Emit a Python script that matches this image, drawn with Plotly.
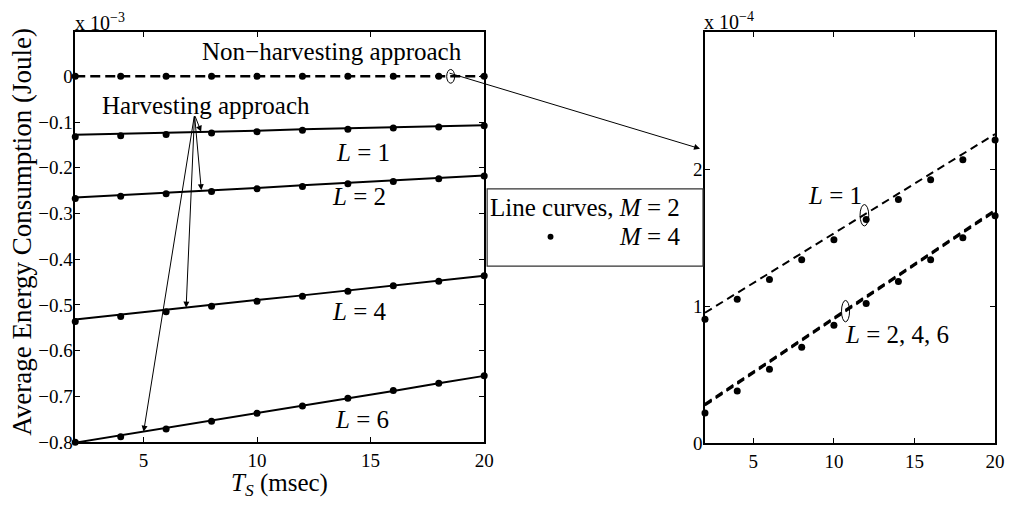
import plotly.graph_objects as go

# ---------------- data ----------------
ts = [2, 4, 6, 8, 10, 12, 14, 16, 18, 20]

# left panel (units of 1e-3 Joule)
non_harv_m2 = [0, 0, 0, 0, 0, 0, 0, 0, 0, 0]
non_harv_m4 = [0, 0, 0, 0, 0, 0, 0, 0, 0, 0]
harv_m2 = {
    "L = 1": [-0.128, -0.126, -0.123, -0.121, -0.119, -0.116, -0.114, -0.112, -0.109, -0.107],
    "L = 2": [-0.265, -0.260, -0.254, -0.249, -0.244, -0.238, -0.233, -0.228, -0.222, -0.217],
    "L = 4": [-0.532, -0.521, -0.511, -0.500, -0.489, -0.479, -0.468, -0.457, -0.447, -0.436],
    "L = 6": [-0.801, -0.785, -0.769, -0.752, -0.736, -0.720, -0.704, -0.688, -0.671, -0.655],
}
harv_m4 = {
    "L = 1": [-0.132, -0.130, -0.127, -0.124, -0.121, -0.118, -0.116, -0.113, -0.111, -0.108],
    "L = 2": [-0.267, -0.262, -0.257, -0.252, -0.246, -0.241, -0.235, -0.230, -0.224, -0.218],
    "L = 4": [-0.536, -0.525, -0.515, -0.503, -0.492, -0.481, -0.470, -0.458, -0.448, -0.436],
    "L = 6": [-0.800, -0.788, -0.771, -0.754, -0.737, -0.721, -0.704, -0.687, -0.671, -0.655],
}

# right panel: zoom of non-harvesting (units of 1e-4 Joule)
zoom_m2 = {
    "L = 1": [0.952, 1.097, 1.242, 1.387, 1.532, 1.677, 1.822, 1.967, 2.112, 2.257],
    "L = 2": [0.281, 0.438, 0.596, 0.753, 0.911, 1.068, 1.226, 1.383, 1.541, 1.698],
    "L = 4": [0.287, 0.444, 0.602, 0.759, 0.917, 1.074, 1.232, 1.389, 1.547, 1.704],
    "L = 6": [0.275, 0.432, 0.590, 0.747, 0.905, 1.062, 1.220, 1.377, 1.535, 1.692],
}
zoom_m4 = {
    "L = 1": [0.905, 1.050, 1.195, 1.340, 1.486, 1.633, 1.779, 1.924, 2.069, 2.214],
    "L = 2, 4, 6": [0.221, 0.381, 0.540, 0.700, 0.860, 1.019, 1.181, 1.340, 1.500, 1.660],
}

left_yticks = [-0.8, -0.7, -0.6, -0.5, -0.4, -0.3, -0.2, -0.1, 0]
right_yticks = [0, 1, 2]
xticks = [5, 10, 15, 20]

# ---------------- figure ----------------
W, H = 1016, 506
FONT = "Liberation Serif"


def px(x):
    return x / W


def py(y):
    return 1 - y / H


fig = go.Figure()

dot = dict(color="black", size=7)

# left panel
fig.add_trace(go.Scatter(x=ts, y=non_harv_m2, mode="lines",
                         line=dict(color="black", width=2.5, dash="10px,5px"),
                         xaxis="x", yaxis="y", showlegend=False))
fig.add_trace(go.Scatter(x=ts, y=non_harv_m4, mode="markers", marker=dot,
                         xaxis="x", yaxis="y", showlegend=False, cliponaxis=False))
for k, v in harv_m2.items():
    fig.add_trace(go.Scatter(x=ts, y=v, mode="lines",
                             line=dict(color="black", width=2),
                             xaxis="x", yaxis="y", showlegend=False))
for k, v in harv_m4.items():
    fig.add_trace(go.Scatter(x=ts, y=v, mode="markers", marker=dot,
                             xaxis="x", yaxis="y", showlegend=False, cliponaxis=False))

# right panel
for k, v in zoom_m2.items():
    fig.add_trace(go.Scatter(x=ts, y=v, mode="lines",
                             line=dict(color="black", width=2, dash="8px,5px"),
                             xaxis="x2", yaxis="y2", showlegend=False))
for k, v in zoom_m4.items():
    fig.add_trace(go.Scatter(x=ts, y=v, mode="markers", marker=dot,
                             xaxis="x2", yaxis="y2", showlegend=False, cliponaxis=False))

axis_common = dict(showline=True, linecolor="black", linewidth=1.5, mirror="ticks",
                   ticks="inside", ticklen=5, tickcolor="black", tickwidth=1,
                   showgrid=False, zeroline=False,
                   tickfont=dict(family=FONT, size=19, color="black"))

fig.update_layout(
    width=W, height=H,
    margin=dict(l=0, r=0, t=0, b=0),
    font=dict(family=FONT, size=19, color="black"),
    paper_bgcolor="white", plot_bgcolor="white",
    xaxis=dict(domain=[px(76), px(489)], range=[2, 20], tickvals=xticks,
               anchor="y", **axis_common),
    yaxis=dict(domain=[py(452), py(33)], range=[-0.8, 0.0963], tickvals=left_yticks,
               anchor="x", ticklabelstandoff=-3, **axis_common),
    xaxis2=dict(domain=[px(712), px(1005)], range=[2, 20], tickvals=xticks,
                anchor="y2", **axis_common),
    yaxis2=dict(domain=[py(453), py(33)], range=[0, 3.0], tickvals=right_yticks,
                anchor="x2", ticklabelstandoff=-3, **axis_common),
)

ann = []


def text(x, y, s, size=25, xanchor="center", yanchor="middle", textangle=0, pad=1):
    ann.append(dict(x=px(x), y=py(y), xref="paper", yref="paper", text=s,
                    showarrow=False, xanchor=xanchor, yanchor=yanchor,
                    textangle=textangle, borderpad=pad,
                    font=dict(family=FONT, size=size, color="black")))


text(335, 53, "Non\u2212harvesting approach")
text(208, 108, "Harvesting approach")
text(367, 156, "<i>L</i> = 1")
text(363, 201, "<i>L</i> = 2")
text(363, 318, "<i>L</i> = 4")
text(366, 429, "<i>L</i> = 6")
text(843, 200, "<i>L</i> = 1")
text(906, 342, "<i>L</i> = 2, 4, 6")
text(689, 212, "Line curves, <i>M</i> = 2", xanchor="right")
text(689, 242, "<i>M</i> = 4", xanchor="right")
text(22, 237, "Average Energy Consumption (Joule)", size=27, textangle=-90)
text(282, 495, "<i>T</i><sub><i>S</i></sub> (msec)", size=25, pad=0)
text(74, 37, "x 10<sup>\u22123</sup>", size=20, xanchor="left", yanchor="bottom")
text(709, 36, "x 10<sup>\u22124</sup>", size=20, xanchor="left", yanchor="bottom")

# arrows from "Harvesting approach"
for hx, hy in [(7.54, -0.121), (7.55, -0.249), (6.88, -0.506), (5.01, -0.777)]:
    ann.append(dict(x=hx, y=hy, xref="x", yref="y", ax=7.25, ay=-0.084,
                    axref="x", ayref="y", showarrow=True, arrowhead=2,
                    arrowsize=1.2, arrowwidth=1, arrowcolor="black", text=""))
# arrow from left ellipse to right panel
ann.append(dict(x=px(707), y=py(152), xref="paper", yref="paper",
                ax=-252, ay=-76, showarrow=True, arrowhead=2, arrowsize=1.2,
                arrowwidth=1, arrowcolor="black", text="", standoff=0))
fig.update_layout(annotations=ann)

shapes = [
    # ellipses
    dict(type="circle", xref="x", yref="y", x0=18.35, x1=18.70, y0=-0.015, y1=0.015,
         line=dict(color="black", width=1)),
    dict(type="circle", xref="x2", yref="y2", x0=11.62, x1=12.16, y0=1.586, y1=1.742,
         line=dict(color="black", width=1)),
    dict(type="circle", xref="x2", yref="y2", x0=10.47, x1=10.97, y0=0.886, y1=1.042,
         line=dict(color="black", width=1)),
    # legend box
    dict(type="rect", xref="paper", yref="paper", x0=px(492), x1=px(710),
         y0=py(272), y1=py(193), line=dict(color="#333", width=1.2),
         fillcolor="white", layer="above"),
    dict(type="circle", xref="paper", yref="paper", x0=px(553), x1=px(559),
         y0=py(245), y1=py(239), fillcolor="black", line=dict(color="black", width=0)),
]
fig.update_layout(shapes=shapes)

fig.write_html("out.html")
